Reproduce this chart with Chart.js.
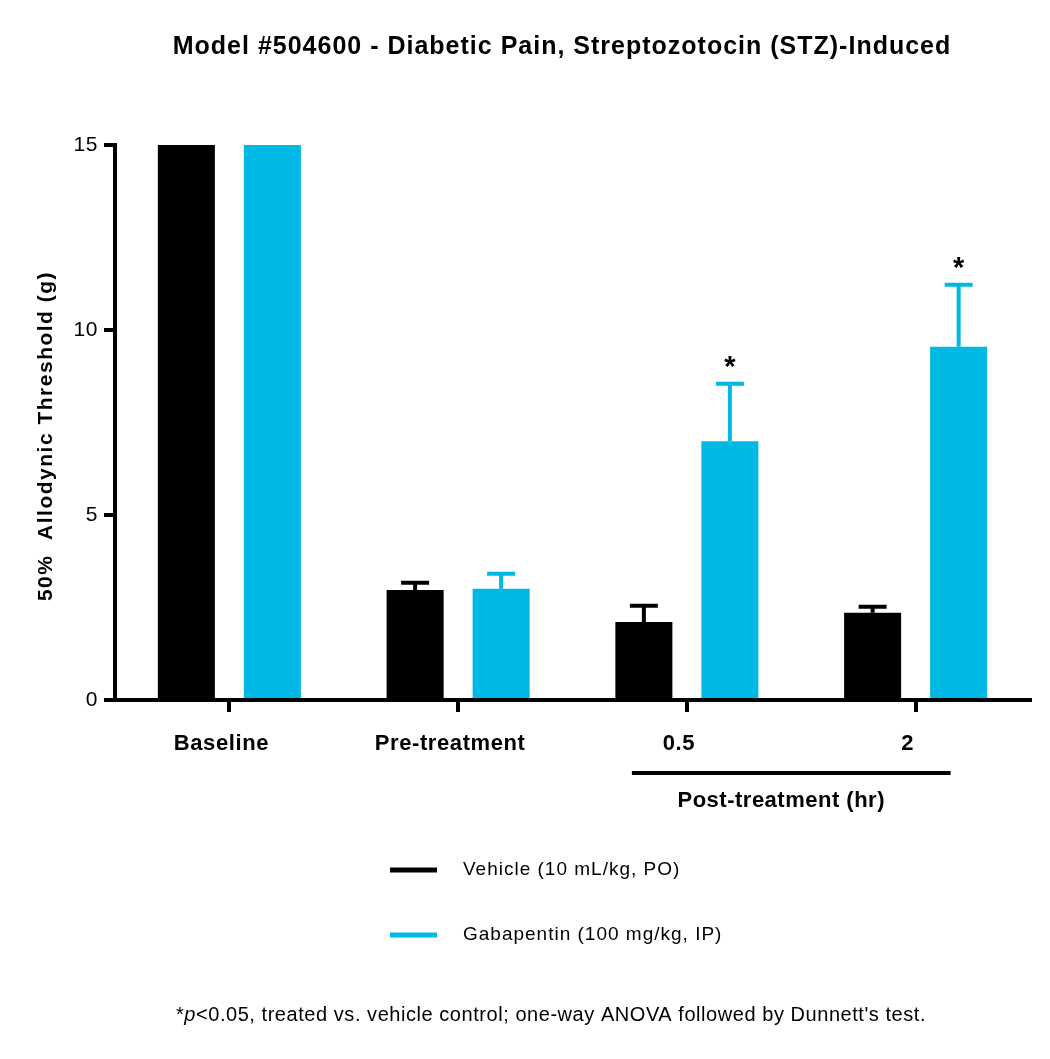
<!DOCTYPE html>
<html>
<head>
<meta charset="utf-8">
<script src="https://cdn.jsdelivr.net/npm/chart.js@4.4.1/dist/chart.umd.min.js"></script>
<style>
  html, body { margin: 0; padding: 0; background: #fff; }
  #wrap { width: 1050px; height: 1059px; position: relative; }
</style>
</head>
<body>
<div id="wrap"><canvas id="chart"></canvas></div>
<script>
const categories = ["Baseline", "Pre-treatment", "0.5", "2"];
const vehicleMean = [15, 2.97, 2.11, 2.36];
const vehicleSem = [0, 0.2, 0.44, 0.16];
const gabapentinMean = [15, 3.01, 6.99, 9.55];
const gabapentinSem = [0, 0.4, 1.56, 1.67];
const gabapentinSig = [false, false, true, true];
const yTicks = [0, 5, 10, 15];
const seriesNames = ["Vehicle (10 mL/kg, PO)", "Gabapentin (100 mg/kg, IP)"];
const seriesColors = ["#000000", "#00b8e4"];

const FONT = "'Liberation Sans', Arial, sans-serif";
const errors = [vehicleSem, gabapentinSem];

// error bars (upper only), asterisks, bracket, legend, footnote, titles
const extras = {
    id: "extras",
    beforeDraw(chart) {
        // the reference text is a bit wider than Arial
        chart.ctx.letterSpacing = "0.6px";
    },
    afterDatasetsDraw(chart) {
        const c = chart.ctx;
        const y = chart.scales.y;
        const x = chart.scales.x;
        c.save();
        chart.data.datasets.forEach((ds, i) => {
            const meta = chart.getDatasetMeta(i);
            meta.data.forEach((bar, j) => {
                const err = errors[i][j];
                if (!err) return;
                const top = y.getPixelForValue(ds.data[j] + err);
                c.strokeStyle = seriesColors[i];
                c.lineWidth = 4;
                c.beginPath();
                c.moveTo(bar.x, bar.y);
                c.lineTo(bar.x, top);
                c.moveTo(bar.x - 14, top);
                c.lineTo(bar.x + 14, top);
                c.stroke();
                if (i === 1 && gabapentinSig[j]) {
                    c.fillStyle = "#000";
                    c.letterSpacing = "0px";
                    c.font = "bold 29px " + FONT;
                    c.textAlign = "center";
                    c.textBaseline = "alphabetic";
                    c.fillText("*", bar.x, top - 8);
                }
            });
        });

        // post-treatment bracket
        const x1 = x.getPixelForValue(2) - 55;
        const x2 = x.getPixelForValue(3) + 35;
        c.strokeStyle = "#000";
        c.lineWidth = 4;
        c.beginPath();
        c.moveTo(x1, 773);
        c.lineTo(x2, 773);
        c.stroke();
        c.fillStyle = "#000";
        c.letterSpacing = "0.5px";
        c.font = "bold 22px " + FONT;
        c.textAlign = "center";
        c.textBaseline = "middle";
        c.fillText("Post-treatment (hr)", (x1 + x2) / 2 - 10, 801);

        // y axis title
        c.save();
        c.translate(46, 436);
        c.rotate(-Math.PI / 2);
        c.letterSpacing = "1.5px";
        c.font = "bold 21px " + FONT;
        c.fillText("50%  Allodynic Threshold (g)", 0, 0);
        c.restore();

        // legend
        c.letterSpacing = "1px";
        c.font = "19px " + FONT;
        c.textAlign = "left";
        seriesNames.forEach((name, i) => {
            const ly = 870 + i * 65;
            c.strokeStyle = seriesColors[i];
            c.lineWidth = 5;
            c.beginPath();
            c.moveTo(390, ly);
            c.lineTo(437, ly);
            c.stroke();
            c.fillStyle = "#000";
            c.fillText(name, 463, ly);
        });

        // footnote
        c.letterSpacing = "0.55px";
        const parts = [
            ["*", "20px " + FONT],
            ["p", "italic 20px " + FONT],
            ["<0.05, treated vs. vehicle control; one-way ANOVA followed by Dunnett's test.", "20px " + FONT]
        ];
        let total = 0;
        parts.forEach(p => { c.font = p[1]; total += c.measureText(p[0]).width; });
        let fx = 551 - total / 2;
        parts.forEach(p => {
            c.font = p[1];
            c.fillText(p[0], fx, 1015);
            fx += c.measureText(p[0]).width;
        });

        // title
        c.letterSpacing = "1px";
        c.font = "bold 25px " + FONT;
        c.textAlign = "center";
        c.fillText("Model #504600 - Diabetic Pain, Streptozotocin (STZ)-Induced", 562, 47);
        c.restore();
    }
};

new Chart(document.getElementById("chart"), {
    type: "bar",
    data: {
        labels: categories,
        datasets: [
            { label: seriesNames[0], data: vehicleMean, backgroundColor: seriesColors[0] },
            { label: seriesNames[1], data: gabapentinMean, backgroundColor: seriesColors[1] }
        ]
    },
    options: {
        responsive: true,
        maintainAspectRatio: false,
        animation: false,
        categoryPercentage: 0.752,
        barPercentage: 0.663,
        layout: { padding: { top: 145, left: 0, right: 20, bottom: 299 } },
        plugins: {
            legend: { display: false },
            tooltip: { enabled: false },
            title: { display: false }
        },
        scales: {
            x: {
                afterFit: s => { s.height = 60; },
                border: { display: true, color: "#000", width: 4 },
                grid: {
                    offset: false,
                    drawOnChartArea: false,
                    color: "#000",
                    lineWidth: 4,
                    tickLength: 12
                },
                ticks: {
                    color: "#000",
                    padding: 19,
                    labelOffset: -8,
                    font: { family: FONT, size: 22, weight: "bold" }
                }
            },
            y: {
                min: 0,
                max: 15,
                afterFit: s => { s.width = 115; },
                afterBuildTicks: s => { s.ticks = yTicks.map(v => ({ value: v })); },
                border: { display: true, color: "#000", width: 4 },
                grid: {
                    drawOnChartArea: false,
                    color: "#000",
                    lineWidth: 4,
                    tickLength: 11
                },
                ticks: {
                    color: "#000",
                    padding: 6,
                    font: { family: FONT, size: 21 }
                }
            }
        }
    },
    plugins: [extras]
});
</script>
</body>
</html>
